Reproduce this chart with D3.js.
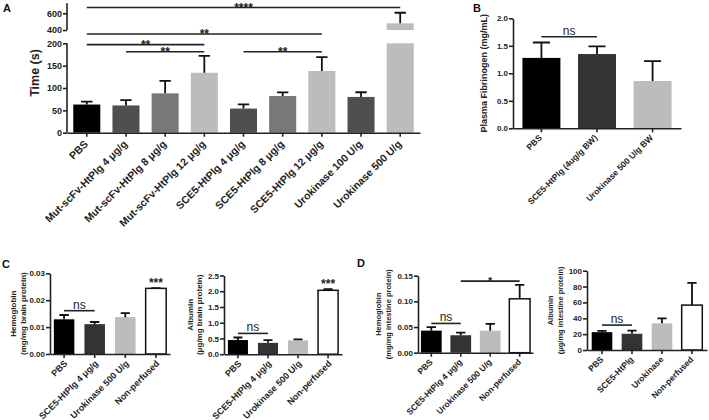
<!DOCTYPE html>
<html><head><meta charset="utf-8">
<script src="https://cdn.jsdelivr.net/npm/d3@7"></script>
<style>
body{margin:0;background:#fff;}
svg{display:block;font-family:"Liberation Sans",Arial,sans-serif;}
</style></head><body>
<svg id="c" width="709" height="420"></svg>
<script>
// ---------- DATA ----------
const catsA = ["PBS","Mut-scFv-HtPlg 4 \u03bcg/g","Mut-scFv-HtPlg 8 \u03bcg/g","Mut-scFv-HtPlg 12 \u03bcg/g","SCE5-HtPlg 4 \u03bcg/g","SCE5-HtPlg 8 \u03bcg/g","SCE5-HtPlg 12 \u03bcg/g","Urokinase 100 U/g","Urokinase 500 U/g"];
const timeA = [63, 61, 88, 134, 54, 82, 138, 80, 480];
const timeErrA = [6.5, 12, 28, 38, 9.5, 8, 31, 10.5, 127];
const colorsA = ["#000000","#4f4f4f","#787878","#bcbcbc","#4f4f4f","#787878","#bcbcbc","#4f4f4f","#bcbcbc"];
const ticksA = [0, 50, 100, 150, 200, 400, 600];
const sigA = [{a:0,b:8,lvl:670,t:"****"},{a:0,b:6,lvl:340,t:"**"},{a:0,b:3,lvl:197,t:"**"},{a:1,b:3,lvl:181,t:"**"},{a:4,b:6,lvl:181,t:"**"}];

const catsB = ["PBS","SCE5-HtPlg (4ug/g BW)","Urokinase 500 U/g BW"];
const fibB = [1.28, 1.35, 0.86];
const fibErrB = [0.28, 0.14, 0.36];
const colorsB = ["#000000","#333333","#bcbcbc"];
const ticksB = [0, 0.5, 1.0, 1.5, 2.0];
const sigB = [{a:0,b:1,lvl:1.665,t:"ns"}];

const catsC = ["PBS","SCE5-HtPlg 4 \u03bcg/g","Urokinase 500 U/g","Non-perfused"];
const colorsCD = ["#000000","#333333","#bcbcbc","#ffffff"];
const hbC = [0.0129, 0.0111, 0.0137, 0.0244];
const hbErrC = [0.0016, 0.0008, 0.0015, 0.0001];
const ticksHbC = [0, 0.01, 0.02, 0.03];
const sigHbC = [{a:0,b:1,lvl:0.0161,t:"ns"}];
const albC = [0.45, 0.36, 0.44, 2.03];
const albErrC = [0.08, 0.09, 0.03, 0.04];
const ticksAlbC = [0, 0.5, 1.0, 1.5, 2.0, 2.5];
const sigAlbC = [{a:0,b:1,lvl:0.66,t:"ns"}];
const starC = "***";

const catsDHb = ["PBS","SCE5-HtPlg 4 \u03bcg/g","Urokinase 500 U/g","Non-perfused"];
const hbD = [0.043, 0.034, 0.043, 0.105];
const hbErrD = [0.007, 0.005, 0.013, 0.027];
const ticksHbD = [0, 0.05, 0.10, 0.15];
const sigHbD = [{a:0,b:1,lvl:0.057,t:"ns"},{a:1,b:3,lvl:0.1395,t:"*"}];
const catsDAlb = ["PBS","SCE5-HtPlg","Urokinase","Non-perfused"];
const albD = [22.5, 20.5, 33.6, 56.6];
const albErrD = [1.5, 4.0, 6.3, 28];
const ticksAlbD = [0, 20, 40, 60, 80, 100];
const sigAlbD = [{a:0,b:1,lvl:31.4,t:"ns"}];

// ---------- DRAW ----------
const svg = d3.select("#c");
const INK = "#222";

function panel(p) {
  const g = svg.append("g");
  const x = d3.scaleBand().domain(p.cats).range([p.x0, p.x1]).paddingInner(p.pi).paddingOuter(p.po);
  const y = p.y;
  const base = y(0);
  const bw = x.bandwidth();
  const cx = c => x(c) + bw / 2;

  p.cats.forEach((c, i) => {
    const v = p.vals[i];
    const segs = (p.brk && v > p.brk[1]) ? [[0, p.brk[0]], [p.brk[1], v]] : [[0, v]];
    segs.forEach(s => {
      g.append("rect")
        .attr("x", x(c)).attr("width", bw)
        .attr("y", y(s[1])).attr("height", y(s[0]) - y(s[1]))
        .attr("fill", p.colors[i])
        .attr("stroke", p.colors[i] === "#ffffff" ? "#111" : "none")
        .attr("stroke-width", 1.5);
    });
    const top = y(v + p.errs[i]);
    const cw = bw * p.cap;
    g.append("path")
      .attr("d", `M${cx(c)},${y(v)}V${top}M${cx(c) - cw / 2},${top}H${cx(c) + cw / 2}`)
      .attr("stroke", "#111").attr("stroke-width", 1.8).attr("fill", "none");
  });

  const ya = g.append("g").attr("transform", `translate(${p.x0},0)`)
    .call(d3.axisLeft(y).tickValues(p.ticks).tickFormat(p.fmt).tickSize(4).tickSizeOuter(0));
  ya.selectAll("text").attr("font-size", p.tickFont).attr("font-weight", "bold").attr("fill", INK)
    .attr("font-family", "Liberation Sans, Arial, sans-serif").attr("x", -5);
  if (p.brk) {
    ya.select(".domain").remove();
    ya.append("path").attr("d", `M0,${y(0)}V${y(p.brk[0])}M0,${y(p.brk[1])}V${y(p.yTop)}`)
      .attr("stroke", INK).attr("fill", "none");
  }
  const xa = g.append("g").attr("transform", `translate(0,${base})`)
    .call(d3.axisBottom(x).tickSize(4).tickSizeOuter(0));
  xa.selectAll("text")
    .attr("x", 0).attr("y", 0).attr("dy", 0)
    .attr("text-anchor", "end")
    .attr("transform", `translate(${p.ldx},${p.ldy}) rotate(-45)`)
    .attr("font-size", p.labFont).attr("font-weight", "bold").attr("fill", INK)
    .attr("font-family", "Liberation Sans, Arial, sans-serif");
  [ya, xa].forEach(a => {
    a.selectAll("path,line").attr("stroke", INK).attr("stroke-width", 1.6);
  });

  (p.sig || []).forEach(s => {
    const yy = y(s.lvl);
    const xa1 = cx(p.cats[s.a]), xb = cx(p.cats[s.b]);
    g.append("line").attr("x1", xa1).attr("x2", xb).attr("y1", yy).attr("y2", yy)
      .attr("stroke", INK).attr("stroke-width", 1.6);
    const isNs = s.t === "ns";
    g.append("text").attr("x", (xa1 + xb) / 2).attr("y", isNs ? yy - 2 : yy + p.starDy)
      .attr("text-anchor", "middle")
      .attr("font-size", isNs ? 12 : p.starFont)
      .attr("font-weight", isNs ? "normal" : "bold")
      .attr("fill", INK).text(s.t);
  });
  if (p.topStar) {
    const i = p.cats.length - 1;
    g.append("text").attr("x", cx(p.cats[i])).attr("y", y(p.vals[i] + p.errs[i]) + p.topStarDy)
      .attr("text-anchor", "middle").attr("font-size", p.starFont).attr("font-weight", "bold")
      .attr("fill", INK).text(p.topStar);
  }
  const yMid = (y(0) + y(p.ticks[p.ticks.length - 1])) / 2;
  p.ylab.forEach((t, k) => {
    g.append("text")
      .attr("transform", `translate(${p.ylx[k]},${yMid}) rotate(-90)`)
      .attr("text-anchor", "middle").attr("font-size", p.ylFont).attr("font-weight", "bold")
      .attr("fill", INK).text(t);
  });
  return g;
}

panel({
  cats: catsA, vals: timeA, errs: timeErrA, colors: colorsA,
  x0: 67, x1: 420, pi: 0.31, po: 0.16,
  y: d3.scaleLinear().domain([0, 200, 400, 720]).range([132.7, 43.3, 30, 3.3]),
  brk: [200, 400], yTop: 720,
  ticks: ticksA, fmt: d3.format("d"), tickFont: 9, labFont: 10.5, ldx: 2, ldy: 12,
  cap: 0.42, sig: sigA, starFont: 12, starDy: 4.5,
  ylab: ["Time (s)"], ylx: [39], ylFont: 12.5
});
panel({
  cats: catsB, vals: fibB, errs: fibErrB, colors: colorsB,
  x0: 513, x1: 681, pi: 0.317, po: 0.17,
  y: d3.scaleLinear().domain([0, 2]).range([128.3, 18.3]),
  ticks: ticksB, fmt: d3.format(".1f"), tickFont: 8, labFont: 8.5, ldx: 1, ldy: 10,
  cap: 0.45, sig: sigB, starFont: 12, starDy: 3,
  ylab: ["Plasma Fibrinogen (mg/mL)"], ylx: [487], ylFont: 9
});
panel({
  cats: catsC, vals: hbC, errs: hbErrC, colors: colorsCD,
  x0: 50, x1: 170, pi: 0.33, po: 0.125,
  y: d3.scaleLinear().domain([0, 0.03]).range([354, 273.3]),
  ticks: ticksHbC, fmt: d3.format(".2f"), tickFont: 8, labFont: 9, ldx: 4, ldy: 10,
  cap: 0.45, sig: sigHbC, starFont: 12, starDy: 3, topStar: starC, topStarDy: -1,
  ylab: ["Hemoglobin", "(mg/mg brain protein)"], ylx: [16, 25.5], ylFont: 8
});
panel({
  cats: catsC, vals: albC, errs: albErrC, colors: colorsCD,
  x0: 224, x1: 342, pi: 0.333, po: 0.13,
  y: d3.scaleLinear().domain([0, 2.5]).range([354.2, 275.5]),
  ticks: ticksAlbC, fmt: d3.format(".1f"), tickFont: 8, labFont: 9, ldx: 4, ldy: 10,
  cap: 0.45, sig: sigAlbC, starFont: 12, starDy: 3, topStar: starC, topStarDy: -1,
  ylab: ["Albumin", "(\u03bcg/mg brain protein)"], ylx: [193, 201.5], ylFont: 8
});
panel({
  cats: catsDHb, vals: hbD, errs: hbErrD, colors: colorsCD,
  x0: 418, x1: 533, pi: 0.296, po: 0.1,
  y: d3.scaleLinear().domain([0, 0.15]).range([352.7, 275.7]),
  ticks: ticksHbD, fmt: d3.format(".2f"), tickFont: 8, labFont: 8.5, ldx: 2, ldy: 10,
  cap: 0.45, sig: sigHbD, starFont: 11, starDy: 3.5,
  ylab: ["Hemoglobin", "(mg/mg intestine protein)"], ylx: [381, 390.5], ylFont: 7.5
});
panel({
  cats: catsDAlb, vals: albD, errs: albErrD, colors: colorsCD,
  x0: 587, x1: 707, pi: 0.313, po: 0.157,
  y: d3.scaleLinear().domain([0, 100]).range([350, 270.7]),
  ticks: ticksAlbD, fmt: d3.format("d"), tickFont: 8, labFont: 8.5, ldx: 2, ldy: 10,
  cap: 0.45, sig: sigAlbD, starFont: 11, starDy: 3.5,
  ylab: ["Albumin", "(\u03bcg/mg intestine protein)"], ylx: [553, 562.5], ylFont: 7.5
});

[["A", 3, 12], ["B", 473, 12], ["C", 2, 268], ["D", 357, 267]].forEach(d => {
  svg.append("text").attr("x", d[1]).attr("y", d[2]).attr("font-size", 11)
    .attr("font-weight", "bold").attr("fill", "#111").text(d[0]);
});
</script>
</body></html>
